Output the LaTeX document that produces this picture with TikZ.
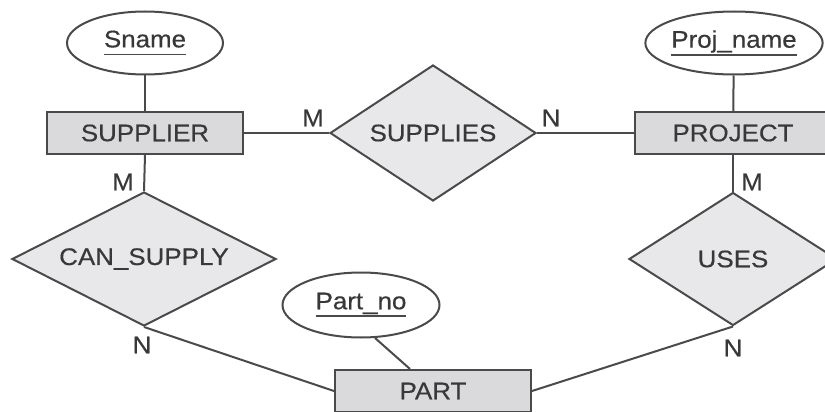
\documentclass[tikz,border=0pt]{standalone}
\usepackage{fontspec}
\setmainfont{Liberation Sans}[FakeStretch=1.08,FakeBold=0.4]
\usetikzlibrary{shapes.geometric}
\definecolor{ink}{HTML}{383838}
\definecolor{edge}{HTML}{4A4A4A}
\definecolor{boxfill}{HTML}{DADADC}
\definecolor{relfill}{HTML}{E8E8EB}
% key attribute: text with a solid rule beneath it
\newcommand{\keyattr}[1]{\setbox0\hbox{#1}\rlap{\color{edge}\rule[-8pt]{\wd0}{1.8pt}}\box0}
\begin{document}
\begin{tikzpicture}[x=1pt,y=-1pt,
  every node/.style={font=\fontsize{24}{28}\selectfont, text=ink, inner sep=0pt},
  entity/.style={draw=edge, line width=2pt, fill=boxfill, rectangle,
    minimum width=196pt, minimum height=42pt},
  relation/.style={draw=edge, line width=2pt, fill=relfill, diamond, aspect=2},
  attribute/.style={draw=edge, line width=2pt, fill=white, ellipse,
    minimum width=156pt, minimum height=63pt},
  link/.style={draw=edge, line width=2pt},
  card/.style={}]
\useasboundingbox (0,0) rectangle (825,412);

% entities
\node[entity] (supplier) at (145,133) {SUPPLIER};
\node[entity] (project)  at (733,133) {PROJECT};
\node[entity] (part)     at (433,391) {PART};

% relationships
\node[relation, minimum width=206pt, minimum height=136pt] (supplies)  at (433,133) {SUPPLIES};
\node[relation, minimum width=264pt, minimum height=134pt] (cansupply) at (144,259) {CAN\_SUPPLY};
\node[relation, minimum width=208pt, minimum height=133pt] (uses)      at (733,259) {USES};

% key attributes
\node[attribute] (sname)    at (145,43)  {\keyattr{Sname}};
\node[attribute] (projname) at (734,43)  {\keyattr{Proj\_name}};
\node[attribute, minimum width=157pt, minimum height=65pt] (partno) at (361,305) {\keyattr{Part\_no}};

% connectors
\draw[link] (sname) -- (supplier);
\draw[link] (projname) -- (project);
\draw[link] (supplier.east) -- (supplies.west);
\draw[link] (supplies.east) -- (project.west);
\draw[link] (supplier.south) -- (cansupply.north);
\draw[link] (project.south) -- (uses.north);
\draw[link] (cansupply.south) -- (part.west);
\draw[link] (uses.south) -- (part.east);
\draw[link] (partno.-67) -- ([xshift=-23pt]part.north);

% cardinalities
\node[card] (c1) at (313,118) {M};
\node[card] (c2) at (551,118) {N};
\node[card] (c3) at (123,182) {M};
\node[card] (c4) at (752,182) {M};
\node[card] (c5) at (142,345) {N};
\node[card] (c6) at (733,348) {N};
\end{tikzpicture}
\end{document}
